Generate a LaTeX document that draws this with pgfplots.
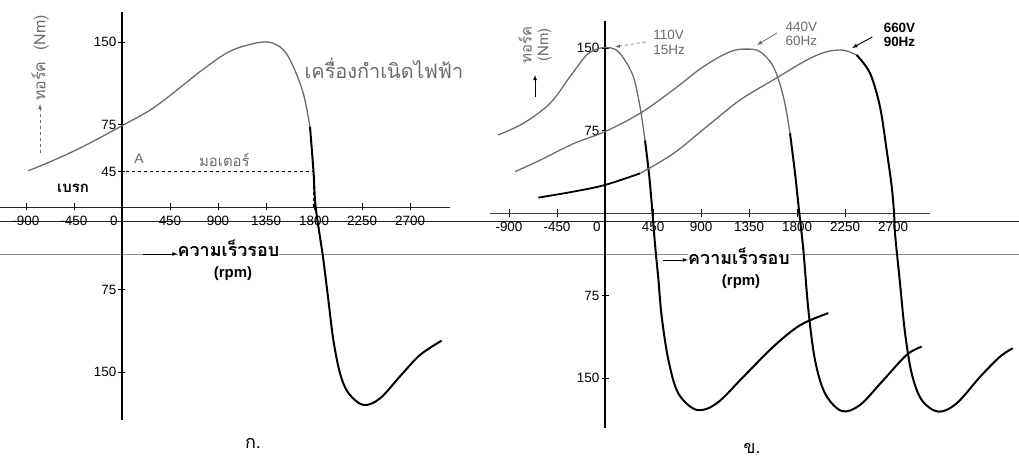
\documentclass[border=0pt]{standalone}
\usepackage{pgfplots}
\pgfplotsset{compat=1.18}
\usepackage{fontspec}
\setmainfont{Liberation Sans}
\newfontfamily\thai[Script=Thai]{Loma}
\definecolor{cg}{gray}{0.42}
\definecolor{lg}{gray}{0.55}
\newcommand{\tk}{\fontsize{13.5}{15}\selectfont}
\newcommand{\thx}{\fontsize{15}{17}\selectfont\thai}
\pgfplotsset{
  panel/.style={
    anchor=south west, scale only axis, clip=false,
    axis lines=middle,
    axis line style={-},
    x axis line style={black!85, line width=0.9bp},
    y axis line style={black, line width=1.3bp},
    tick style={black, line width=0.8bp},
    major tick length=7bp, tick align=center,
    hide obscured x ticks=false, hide obscured y ticks=false,
    xticklabel style={font=\tk, inner sep=1bp, yshift=-4bp},
    yticklabel style={font=\tk, inner sep=2bp},
    /pgf/number format/assume math mode=true,
  },
  gr/.style={cg, line width=1.3bp, smooth, tension=0.55, no markers},
  bk/.style={black, line width=2bp, smooth, tension=0.55, no markers},
}
\begin{document}
\begin{tikzpicture}
\path[use as bounding box] (0bp,0bp) rectangle (1019bp,460bp);
% horizontal rules of the scanned page
\draw[black!85, line width=0.9bp] (0bp,239bp) -- (1019bp,239bp);
\draw[lg, line width=0.9bp] (0bp,205.5bp) -- (1019bp,205.5bp);

% ---------------- left panel (a) ----------------
\begin{axis}[panel,
  at={(0bp,39.6bp)}, width=450bp, height=408.1bp,
  xmin=-1143, xmax=3074, ymin=-194, ymax=177,
  xtick={-900,-450,450,900,1350,1800,2250,2700},
  xticklabels={-900,-450,450,900,1350,1800,2250,2700},
  ytick={-150,-75,32,75,150},
  yticklabels={150,75,45,75,150},
]
\addplot[gr] coordinates {(-878,33) (-675,41) (-363,55) (12,74.5) (262,88) (480,103.6) (731,123) (981,140) (1168,147) (1370,150) (1512,143) (1606,127.5) (1700,103) (1762,73)};
\addplot[bk] coordinates {(1762,73) (1795,32) (1815,0) (1881,-43.6) (1934,-84.5) (1981,-121) (2043,-151) (2121,-169) (2262,-180) (2418,-174) (2605,-154) (2793,-134.5) (2996,-121.5)};
\addplot[black, dashed, line width=0.7bp] coordinates {(40,32) (1795,32)};
\addplot[black, dashed, line width=0.7bp] coordinates {(1795,0) (1795,32)};
\addplot[black, line width=2.2bp] coordinates {(0,0) (0,33)};
\node[font=\tk, anchor=north east, inner sep=1bp] at (axis cs:-30,-7) {0};
\node[font=\fontsize{14}{15}\selectfont\color{cg}] at (axis cs:160,43.6) {A};
\node[font=\thx, text=cg] at (axis cs:960,42.7) {มอเตอร์};
\node[font=\bfseries\thx] at (axis cs:-459,17) {เบรก};
\node[font=\fontsize{20}{22}\selectfont\thai, text=cg] at (axis cs:2455,126.4) {เครื่องกำเนิดไฟฟ้า};
\draw[-latex, line width=0.8bp] (axis cs:197,-42.7) -- (axis cs:520,-42.7);
\node[font=\bfseries\fontsize{18}{20}\selectfont\thai, fill=white, inner sep=0bp, text height=11bp, text depth=1bp, anchor=west] at (axis cs:520,-40.5) {ความเร็วรอบ};
\node[font=\bfseries\fontsize{15}{16}\selectfont, inner sep=1bp] at (axis cs:1040,-61) {(rpm)};
\node[font=\fontsize{18}{20}\selectfont\thai] at (axis cs:1228,-215) {ก.};
\end{axis}

% ---------------- right panel (b) ----------------
\begin{axis}[panel,
  at={(490bp,32.5bp)}, width=440bp, height=407bp,
  xmin=-1078, xmax=3046, ymin=-195, ymax=175,
  x axis line style={black!75, line width=0.8bp},
  y axis line style={black, line width=1.1bp},
  xtick={-900,-450,450,900,1350,1800,2250,2700},
  xticklabels={-900,-450,450,900,1350,1800,2250,2700},
  ytick={-150,-75,75,150},
  yticklabels={150,75,75,150},
]
% 110 V, 15 Hz
\addplot[gr] coordinates {(-1000,71) (-766,81.5) (-515,99.7) (-328,124) (-172,143.6) (-60,149.5) (20,150.5) (100,148.5) (172,141) (265,124) (328,96.6) (375,66)};
\addplot[bk] coordinates {(375,66) (415,33) (445,0) (470,-30) (500,-60) (531,-94) (594,-133.6) (687,-164) (859,-179) (1047,-173) (1296,-149) (1578,-121.5) (1828,-102) (2093,-91)};
% 440 V, 60 Hz
\addplot[gr] coordinates {(-843,37.6) (-609,48) (-297,63) (0,74) (328,90.6) (640,112) (921,133) (1171,146.6) (1328,149) (1453,146.6) (1578,133) (1672,105.7) (1734,72.5)};
\addplot[bk] coordinates {(1734,72.5) (1781,36) (1821,0) (1859,-33.6) (1906,-88) (1968,-133.6) (2062,-164) (2218,-180) (2390,-174.5) (2608,-152) (2827,-129) (2968,-121.5)};
% 660 V, 90 Hz
\addplot[bk, line width=1.8bp] coordinates {(-625,14) (-297,19.4) (0,25.5) (328,36)};
\addplot[gr] coordinates {(328,36) (640,54) (953,78.5) (1265,102.7) (1578,121) (1890,139) (2078,146.6) (2234,148) (2359,143.6)};
\addplot[bk] coordinates {(2359,143.6) (2484,127) (2577,96.6) (2640,57) (2687,24) (2709,0) (2718,-18.5) (2765,-64) (2812,-109) (2874,-145.7) (2968,-170) (3124,-180.6) (3296,-173) (3515,-149) (3702,-130.6) (3821,-123)};
\node[font=\tk, anchor=north east, inner sep=1bp] at (axis cs:-30,-7) {0};
\node[font=\fontsize{13.5}{14.5}\selectfont, text=cg, align=left] at (axis cs:600,155) {110V\\15Hz};
\draw[-latex, cg, dashed, line width=0.7bp] (axis cs:380,155.5) -- (axis cs:94,151);
\node[font=\fontsize{13.5}{14.5}\selectfont, text=cg, align=left] at (axis cs:1840,162.7) {440V\\60Hz};
\draw[-latex, cg, line width=0.8bp] (axis cs:1610,163.6) -- (axis cs:1425,152.7);
\node[font=\bfseries\fontsize{13.5}{14.5}\selectfont, align=left] at (axis cs:2760,161.8) {660V\\90Hz};
\draw[-latex, line width=0.9bp] (axis cs:2505,160) -- (axis cs:2315,150);
\draw[-latex, line width=0.8bp] (axis cs:544,-42.7) -- (axis cs:778,-42.7);
\node[font=\bfseries\fontsize{18}{20}\selectfont\thai, fill=white, inner sep=0bp, text height=11bp, text depth=1bp, anchor=west] at (axis cs:778,-42) {ความเร็วรอบ};
\node[font=\bfseries\fontsize{15}{16}\selectfont, inner sep=1bp] at (axis cs:1275,-62.5) {(rpm)};
\node[font=\fontsize{18}{20}\selectfont\thai] at (axis cs:1378,-214) {ข.};
\end{axis}

% y-axis titles
\draw[-latex, dashed, cg, line width=0.8bp] (40bp,307bp) -- (40bp,356bp);
\node[rotate=90, anchor=west, font=\fontsize{16}{18}\selectfont\thai, text=cg, inner sep=1bp] at (40bp,358bp) {ทอร์ค\ \ (Nm)};
\draw[-latex, line width=0.8bp] (535bp,363bp) -- (535bp,385bp);
\node[rotate=90, font=\thx, text=cg, align=center, inner sep=1bp] at (535bp,415bp) {ทอร์ค\\(Nm)};
\end{tikzpicture}
\end{document}
